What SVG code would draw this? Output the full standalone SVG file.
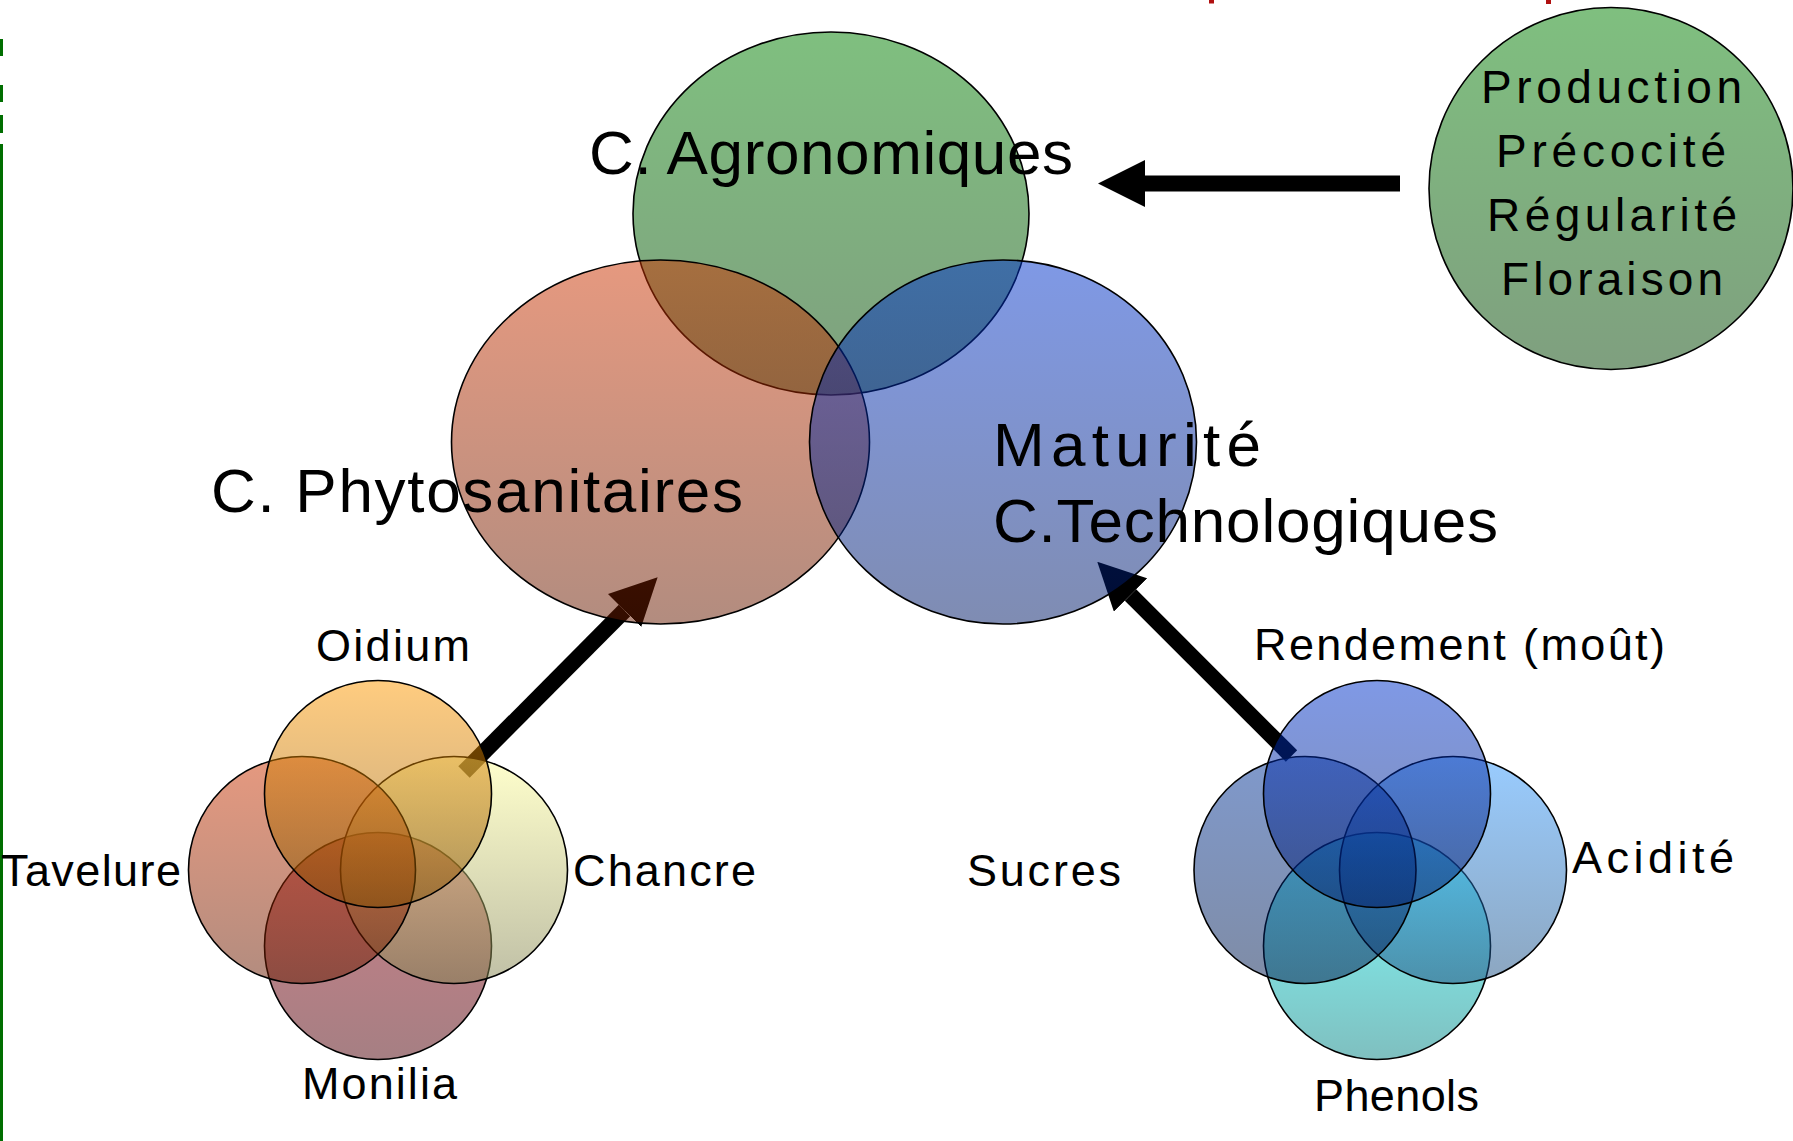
<svg xmlns="http://www.w3.org/2000/svg" width="1793" height="1141" viewBox="0 0 1793 1141">
  <defs>
    <linearGradient id="gGreen" x1="0" y1="0" x2="0" y2="1"><stop offset="0" stop-color="#008000"/><stop offset="1" stop-color="#004000"/></linearGradient>
    <linearGradient id="gRed" x1="0" y1="0" x2="0" y2="1"><stop offset="0" stop-color="#cc3300"/><stop offset="1" stop-color="#661a00"/></linearGradient>
    <linearGradient id="gBlue" x1="0" y1="0" x2="0" y2="1"><stop offset="0" stop-color="#0033cc"/><stop offset="1" stop-color="#001a66"/></linearGradient>
    <linearGradient id="gOrange" x1="0" y1="0" x2="0" y2="1"><stop offset="0" stop-color="#ff9900"/><stop offset="1" stop-color="#804d00"/></linearGradient>
    <linearGradient id="gYellow" x1="0" y1="0" x2="0" y2="1"><stop offset="0" stop-color="#ffff99"/><stop offset="1" stop-color="#80804d"/></linearGradient>
    <linearGradient id="gMaroon" x1="0" y1="0" x2="0" y2="1"><stop offset="0" stop-color="#990011"/><stop offset="1" stop-color="#4d0008"/></linearGradient>
    <linearGradient id="gNavy" x1="0" y1="0" x2="0" y2="1"><stop offset="0" stop-color="#003399"/><stop offset="1" stop-color="#001a4d"/></linearGradient>
    <linearGradient id="gSky" x1="0" y1="0" x2="0" y2="1"><stop offset="0" stop-color="#3399ff"/><stop offset="1" stop-color="#1a4d80"/></linearGradient>
    <linearGradient id="gCyan" x1="0" y1="0" x2="0" y2="1"><stop offset="0" stop-color="#00ffff"/><stop offset="1" stop-color="#008080"/></linearGradient>
    <marker id="head" viewBox="0 0 47 47" refX="0" refY="23.5" markerWidth="47" markerHeight="47" markerUnits="userSpaceOnUse" orient="auto">
      <path d="M0,0 L47,23.5 L0,47 Z" fill="#000"/>
    </marker>
    <style>
      .shape { fill-opacity: 0.5; stroke: #000; stroke-width: 1.6; }
      .big { font-family: "Liberation Sans", Arial, sans-serif; font-size: 62px; fill: #000; }
      .lbl { font-family: "Liberation Sans", Arial, sans-serif; font-size: 45px; fill: #000; }
      .list { font-family: "Liberation Sans", Arial, sans-serif; font-size: 46px; fill: #000; }
      .conn { stroke: #000; stroke-width: 16; fill: none; stroke-linecap: butt; }
    </style>
  </defs>

  <rect x="0" y="0" width="1793" height="1141" fill="#ffffff"/>

  <g id="frame">
    <rect x="0" y="39" width="3" height="17" fill="#006e00"/>
    <rect x="0" y="85" width="3" height="17" fill="#006e00"/>
    <rect x="0" y="115" width="3" height="18" fill="#006e00"/>
    <rect x="0" y="144" width="3" height="997" fill="#006e00"/>
    <rect x="1209" y="0" width="5" height="3.5" fill="#b01010"/>
    <rect x="1546" y="0" width="5" height="4" fill="#b01010"/>
  </g>

  <g id="connectors">
    <line class="conn" x1="1400" y1="183.5" x2="1145" y2="183.5" marker-end="url(#head)"/>
    <line class="conn" x1="464" y1="772" x2="624.5" y2="610.5" marker-end="url(#head)"/>
    <line class="conn" x1="1291.5" y1="756" x2="1130.5" y2="595" marker-end="url(#head)"/>
  </g>

  <g id="node-agronomiques">
    <ellipse class="shape" cx="831" cy="213.5" rx="198" ry="181.5" fill="url(#gGreen)"/>
    <text class="big" x="589" y="174" textLength="484" lengthAdjust="spacing">C. Agronomiques</text>
  </g>
  <g id="node-phytosanitaires">
    <ellipse class="shape" cx="660.5" cy="442" rx="209" ry="182" fill="url(#gRed)"/>
    <text class="big" x="211" y="512" textLength="532" lengthAdjust="spacing">C. Phytosanitaires</text>
  </g>
  <g id="node-technologiques">
    <ellipse class="shape" cx="1003" cy="442" rx="193.5" ry="182" fill="url(#gBlue)"/>
    <text class="big" x="993" y="466" textLength="268" lengthAdjust="spacing">Maturité</text>
    <text class="big" x="993" y="542" textLength="505" lengthAdjust="spacing">C.Technologiques</text>
  </g>

  <g id="node-criteres">
    <ellipse class="shape" cx="1611" cy="188.5" rx="182" ry="181" fill="url(#gGreen)"/>
    <text class="list" x="1481" y="103" textLength="261" lengthAdjust="spacing">Production</text>
    <text class="list" x="1496" y="167" textLength="230" lengthAdjust="spacing">Précocité</text>
    <text class="list" x="1487" y="231" textLength="250" lengthAdjust="spacing">Régularité</text>
    <text class="list" x="1501" y="295" textLength="222" lengthAdjust="spacing">Floraison</text>
  </g>

  <g id="node-monilia">
    <circle class="shape" cx="378" cy="946" r="113.5" fill="url(#gMaroon)"/>
    <text class="lbl" x="302" y="1099" textLength="155" lengthAdjust="spacing">Monilia</text>
  </g>
  <g id="node-chancre">
    <circle class="shape" cx="454" cy="870" r="113.5" fill="url(#gYellow)"/>
    <text class="lbl" x="573" y="886" textLength="183" lengthAdjust="spacing">Chancre</text>
  </g>
  <g id="node-tavelure">
    <circle class="shape" cx="302" cy="870" r="113.5" fill="url(#gRed)"/>
    <text class="lbl" x="1" y="886" textLength="180" lengthAdjust="spacing">Tavelure</text>
  </g>
  <g id="node-oidium">
    <circle class="shape" cx="378" cy="794" r="113.5" fill="url(#gOrange)"/>
    <text class="lbl" x="316" y="661" textLength="154" lengthAdjust="spacing">Oidium</text>
  </g>

  <g id="node-phenols">
    <circle class="shape" cx="1377" cy="946" r="113.5" fill="url(#gCyan)"/>
    <text class="lbl" x="1314" y="1111" textLength="165" lengthAdjust="spacing">Phenols</text>
  </g>
  <g id="node-acidite">
    <circle class="shape" cx="1453" cy="870" r="113.5" fill="url(#gSky)"/>
    <text class="lbl" x="1572" y="873" textLength="162" lengthAdjust="spacing">Acidité</text>
  </g>
  <g id="node-sucres">
    <ellipse class="shape" cx="1305" cy="870" rx="111" ry="113.5" fill="url(#gNavy)"/>
    <text class="lbl" x="967" y="886" textLength="154" lengthAdjust="spacing">Sucres</text>
  </g>
  <g id="node-rendement">
    <circle class="shape" cx="1377" cy="794" r="113.5" fill="url(#gBlue)"/>
    <text class="lbl" x="1254" y="660" textLength="411" lengthAdjust="spacing">Rendement (moût)</text>
  </g>
</svg>
